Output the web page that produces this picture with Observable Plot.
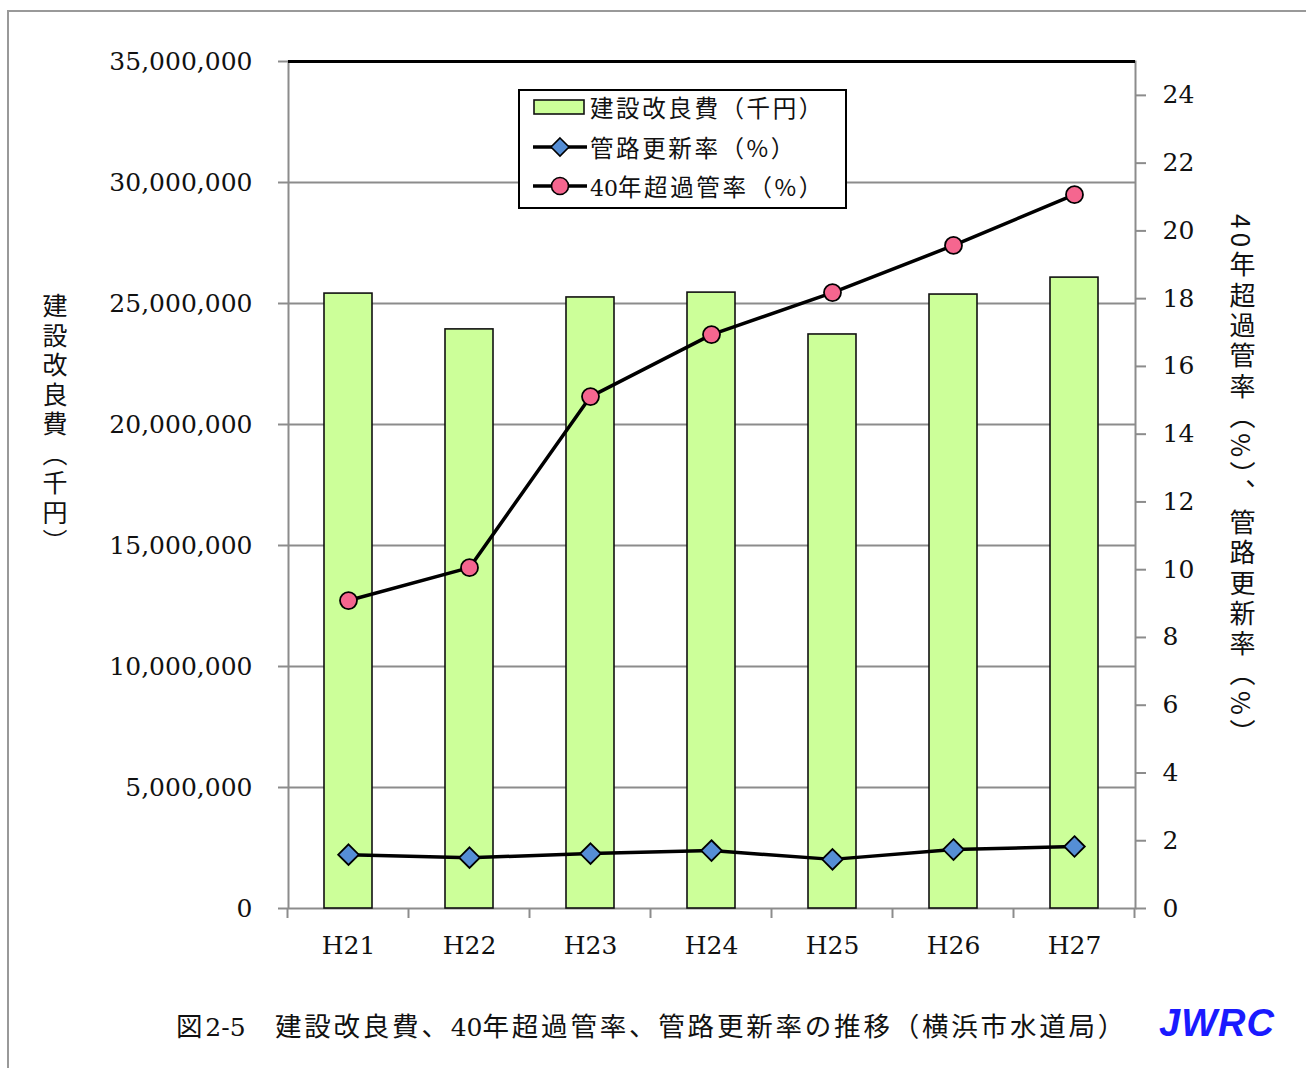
<!DOCTYPE html>
<html>
<head>
<meta charset="utf-8">
<script src="https://cdn.jsdelivr.net/npm/d3@7"></script>
<script src="https://cdn.jsdelivr.net/npm/@observablehq/plot@0.6"></script>
<style>
  html, body { margin: 0; padding: 0; background: #fff; width: 1306px; height: 1068px; overflow: hidden; }
  #wrap { position: relative; width: 1306px; height: 1068px; }
  #frame { position: absolute; left: 7px; top: 10px; width: 1320px; height: 1080px; border: 2px solid #999; box-sizing: border-box; }
  #chart { position: absolute; left: 0; top: 0; }
  .cjk { font-family: "Noto Sans CJK JP", sans-serif; }
  #ylab { position: absolute; left: 40px; top: 293px; writing-mode: vertical-rl; font-size: 25px; line-height: 30px; color: #111; letter-spacing: 4.5px; }
  #y2lab { position: absolute; left: 1227px; top: 214px; writing-mode: vertical-rl; font-size: 26px; line-height: 30px; color: #111; letter-spacing: 4.3px; }
  #legend { position: absolute; left: 518px; top: 89px; width: 329px; height: 120px; border: 2px solid #000; background: #fff; box-sizing: border-box; }
  .row { position: absolute; left: 0; height: 36px; display: flex; align-items: center; }
  .row svg { margin-left: 12px; }
  .row > span { font-size: 23.5px; margin-left: 2px; color: #111; font-family: "Noto Sans CJK JP", sans-serif; letter-spacing: 2.6px; }
  .row span .num { font-family: "DejaVu Serif", serif; font-size: 22px; letter-spacing: 0; }
  #caption { position: absolute; left: 176px; top: 1005px; font-size: 26.5px; color: #111; white-space: nowrap; letter-spacing: 2.8px; }
  #caption .num { font-family: "DejaVu Serif", serif; font-size: 25px; letter-spacing: 0; }
  #jwrc { position: absolute; left: 1159px; top: 1002px; font-family: "Liberation Sans", Arial, sans-serif; font-weight: bold; font-style: italic; font-size: 38px; color: #1a1aff; letter-spacing: 1px; }
</style>
</head>
<body>
<div id="wrap">
  <div id="frame"></div>
  <div id="chart"></div>
  <div id="ylab" class="cjk">建設改良費（千円）</div>
  <div id="y2lab" class="cjk">40年超過管率（%）、管路更新率（%）</div>
  <div id="legend"></div>
  <div id="caption" class="cjk">図<span class="num">2-5</span>　建設改良費、<span class="num">40</span>年超過管率、管路更新率の推移（横浜市水道局）</div>
  <div id="jwrc">JWRC</div>
</div>
<script>
// ---- Data ----
const years = ["H21", "H22", "H23", "H24", "H25", "H26", "H27"];
const cost = [25410000, 23930000, 25250000, 25450000, 23720000, 25370000, 26070000]; // 建設改良費（千円）
const renewalRate = [1.59, 1.50, 1.62, 1.71, 1.45, 1.74, 1.83];   // 管路更新率（%）
const over40Rate = [9.09, 10.06, 15.11, 16.94, 18.18, 19.57, 21.07]; // 40年超過管率（%）
const leftTicks = [0, 5000000, 10000000, 15000000, 20000000, 25000000, 30000000, 35000000];
const rightTicks = [0, 2, 4, 6, 8, 10, 12, 14, 16, 18, 20, 22, 24];
const leftMax = 35000000;
const rightMax = 25;
const seriesNames = ["建設改良費（千円）", "管路更新率（%）", "40年超過管率（%）"];

const k = leftMax / rightMax; // map right-axis % onto left scale
const rows = years.map((y, i) => ({year: y, cost: cost[i], renewal: renewalRate[i], over40: over40Rate[i]}));

const serif = "DejaVu Serif, serif";
const plot = Plot.plot({
  width: 1306,
  height: 980,
  marginTop: 61,
  marginBottom: 72,
  marginLeft: 288,
  marginRight: 171,
  style: {fontFamily: serif, fontSize: "25px", color: "#111", background: "transparent"},
  x: {domain: years, paddingInner: 0.6, paddingOuter: 0.3, label: null},
  y: {domain: [0, leftMax], label: null},
  marks: [
    Plot.ruleY(leftTicks.slice(1, -1), {stroke: "#8c8c8c", strokeWidth: 2}),
    Plot.frame({stroke: "#8c8c8c", strokeWidth: 2}),
    Plot.ruleY([leftMax], {stroke: "#000", strokeWidth: 3}),
    Plot.barY(rows, {x: "year", y: "cost", fill: "#ccff99", stroke: "#111", strokeWidth: 1.6}),
    Plot.line(rows, {x: "year", y: d => d.renewal * k, stroke: "#000", strokeWidth: 3.5}),
    Plot.dot(rows, {x: "year", y: d => d.renewal * k, symbol: "diamond2", r: 9.3, fill: "#558ed5", stroke: "#000", strokeWidth: 1.8}),
    Plot.line(rows, {x: "year", y: d => d.over40 * k, stroke: "#000", strokeWidth: 3.5}),
    Plot.dot(rows, {x: "year", y: d => d.over40 * k, r: 8.5, fill: "#f5668f", stroke: "#000", strokeWidth: 1.8}),
    Plot.axisY(leftTicks, {anchor: "left", tickFormat: d3.format(","), tickSize: 10, tickPadding: 26, stroke: "#8c8c8c", strokeWidth: 2, fill: "#111", label: null}),
    Plot.axisY(rightTicks.map(v => v * k), {anchor: "right", tickFormat: d => String(Math.round(d / k)), tickSize: 10, tickPadding: 17, stroke: "#8c8c8c", strokeWidth: 2, fill: "#111", label: null}),
    Plot.axisX({tickSize: 0, tickPadding: 28, fill: "#111", label: null})
  ]
});
document.getElementById("chart").appendChild(plot);

// category-boundary ticks on the x axis, from the library's band scale
const sx = plot.scale("x");
const pad = (sx.step - sx.bandwidth) / 2;
const bounds = years.map(y => sx.apply(y) - pad).concat([sx.apply(years[years.length - 1]) + sx.bandwidth + pad]);
const y0 = plot.scale("y").apply(0);
d3.select(plot).append("g")
  .selectAll("line").data(bounds).join("line")
  .attr("x1", d => d).attr("x2", d => d)
  .attr("y1", y0).attr("y2", y0 + 10)
  .attr("stroke", "#8c8c8c").attr("stroke-width", 2);

// legend
const lg = d3.select("#legend");
const legendItems = [
  {name: seriesNames[0], type: "bar"},
  {name: seriesNames[1], type: "diamond"},
  {name: seriesNames[2], type: "circle"}
];
legendItems.forEach((it, i) => {
  const row = lg.append("div").attr("class", "row").style("top", (-2 + i * 39.5) + "px");
  const svg = row.append("svg").attr("width", 56).attr("height", 24);
  if (it.type === "bar") {
    svg.append("rect").attr("x", 2).attr("y", 5).attr("width", 50).attr("height", 14).attr("fill", "#ccff99").attr("stroke", "#111").attr("stroke-width", 1.6);
  } else {
    svg.append("line").attr("x1", 1).attr("x2", 55).attr("y1", 12).attr("y2", 12).attr("stroke", "#000").attr("stroke-width", 3.5);
    if (it.type === "diamond") {
      svg.append("path").attr("d", "M28,3 L37,12 L28,21 L19,12 Z").attr("fill", "#558ed5").attr("stroke", "#000").attr("stroke-width", 1.6);
    } else {
      svg.append("circle").attr("cx", 28).attr("cy", 12).attr("r", 8.5).attr("fill", "#f5668f").attr("stroke", "#000").attr("stroke-width", 1.6);
    }
  }
  const span = row.append("span");
  const m = it.name.match(/^(\d+)(.*)$/);
  if (m) { span.append("span").attr("class", "num").text(m[1]); span.append("span").text(m[2]); }
  else span.text(it.name);
});
</script>
</body>
</html>
